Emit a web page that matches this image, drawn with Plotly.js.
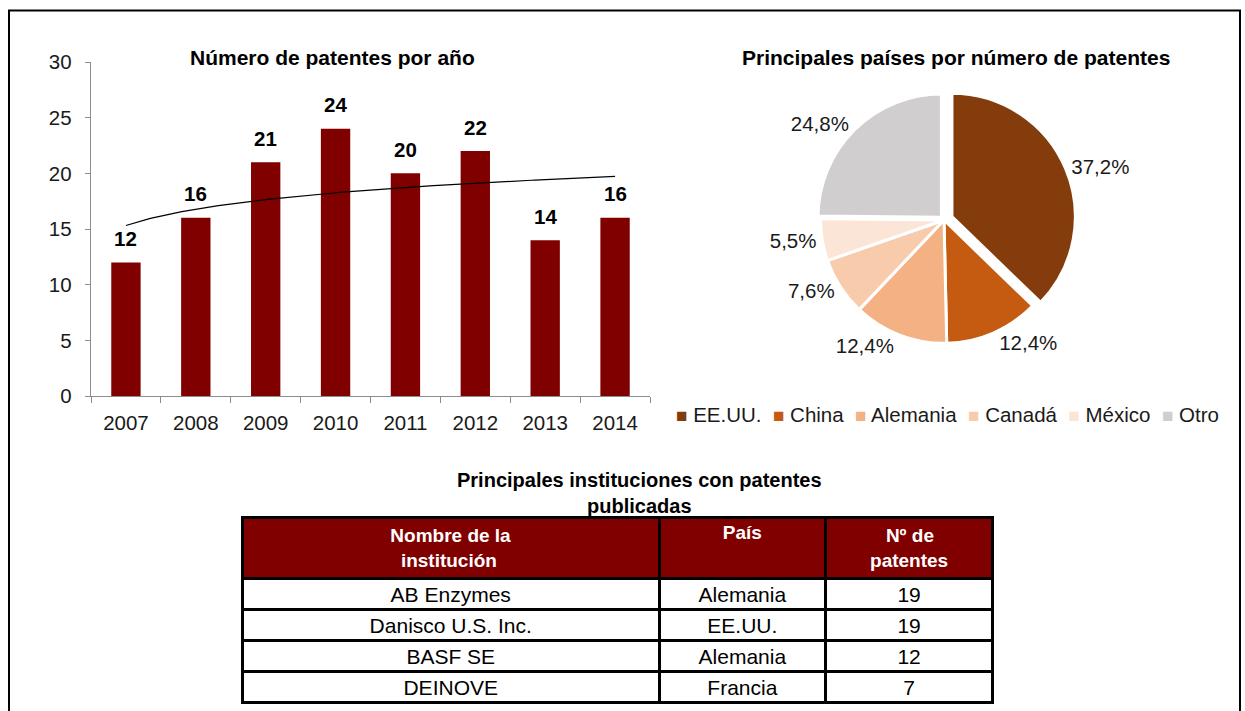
<!DOCTYPE html>
<html>
<head>
<meta charset="utf-8">
<script src="https://cdn.plot.ly/plotly-3.0.1.min.js"></script>
<style>html,body{margin:0;padding:0;background:#fff;overflow:hidden;}#chart{width:1245px;height:711px;}</style>
</head>
<body>
<div id="chart"></div>
<script>
// ---- Data ----
var years = [2007, 2008, 2009, 2010, 2011, 2012, 2013, 2014];
var patents = [12, 16, 21, 24, 20, 22, 14, 16];

var countries = ["EE.UU.", "China", "Alemania", "Canadá", "México", "Otro"];
var countryShare = [37.2, 12.4, 12.4, 7.6, 5.5, 24.8];
var countryColors = ["#843C0C", "#C55A11", "#F4B183", "#F8CBAD", "#FBE5D6", "#D0CECE"];

var instNames = ["AB Enzymes", "Danisco U.S. Inc.", "BASF SE", "DEINOVE"];
var instCountries = ["Alemania", "EE.UU.", "Alemania", "Francia"];
var instPatents = [19, 19, 12, 7];
var tableHeader = ["Nombre de la<br>&nbsp;&nbsp;institución", "País", "&nbsp;&nbsp;&nbsp;Nº de<br>patentes"];

// ---- Logarithmic trend line fitted to the bar values ----
var n = patents.length, sx = 0, sy = 0, sxx = 0, sxy = 0;
for (var i = 0; i < n; i++) {
  var lx = Math.log(i + 1);
  sx += lx; sy += patents[i]; sxx += lx * lx; sxy += lx * patents[i];
}
var b = (n * sxy - sx * sy) / (n * sxx - sx * sx);
var a = (sy - b * sx) / n;
var trendX = [], trendY = [];
for (var k = 0; k <= 140; k++) {
  var t = 1 + 7 * k / 140;
  trendX.push(years[0] - 1 + t);
  trendY.push(a + b * Math.log(t));
}

var FONT = "Liberation Sans, Arial, sans-serif";
var FS = 20.5;

var traces = [
  {
    type: "bar", x: years, y: patents, xaxis: "x", yaxis: "y",
    marker: {color: "#800000"}, width: 0.42, hoverinfo: "x+y", showlegend: false
  },
  {
    type: "scatter", mode: "lines", x: trendX, y: trendY, xaxis: "x", yaxis: "y",
    line: {color: "#000000", width: 1.2}, hoverinfo: "skip", showlegend: false
  },
  {
    type: "pie", labels: countries, values: countryShare, sort: false,
    direction: "clockwise", rotation: 0,
    marker: {colors: countryColors, line: {color: "#ffffff", width: 3}},
    pull: [0.07, 0, 0, 0, 0, 0.03],
    texttemplate: "%{value:.1f}%", textposition: "outside",
    textfont: {family: FONT, size: FS, color: "#1a1a1a"},
    domain: {x: [812 / 1245, 1076 / 1245], y: [1 - 352 / 711, 1 - 88 / 711]},
    showlegend: false, hoverinfo: "label+value"
  },
  {
    type: "table",
    domain: {x: [242 / 1245, 994 / 1245], y: [1 - 706 / 711, 1 - 517 / 711]},
    columnwidth: [418, 166, 168],
    header: {
      values: tableHeader,
      fill: {color: "#800000"},
      line: {color: "#000000", width: 3},
      align: "center", height: 54,
      font: {family: FONT, size: 19, color: "#ffffff", weight: "bold"}
    },
    cells: {
      values: [instNames, instCountries, instPatents],
      fill: {color: "#ffffff"},
      line: {color: "#000000", width: 3},
      align: "center", height: 31,
      font: {family: FONT, size: 21, color: "#000000"}
    }
  }
];

var annotations = [];
for (var j = 0; j < years.length; j++) {
  annotations.push({
    x: years[j], y: patents[j], xref: "x", yref: "y", text: "<b>" + patents[j] + "</b>",
    showarrow: false, xanchor: "center", yanchor: "middle", yshift: 24,
    font: {family: FONT, size: FS, color: "#000000"}
  });
}
annotations.push({
  x: 332 / 1245, y: 1 - 57 / 711, xref: "paper", yref: "paper", xanchor: "center", yanchor: "middle",
  text: "<b>Número de patentes por año</b>", showarrow: false,
  font: {family: FONT, size: 21, color: "#000000"}
});
annotations.push({
  x: 956 / 1245, y: 1 - 58 / 711, xref: "paper", yref: "paper", xanchor: "center", yanchor: "middle",
  text: "<b>Principales países por número de patentes</b>", showarrow: false,
  font: {family: FONT, size: 21, color: "#000000"}
});
annotations.push({
  x: 640 / 1245, y: 1 - 493 / 711, xref: "paper", yref: "paper", xanchor: "center", yanchor: "middle",
  text: "<b>Principales instituciones con patentes<br>publicadas</b>", showarrow: false,
  font: {family: FONT, size: 20, color: "#000000"}
});
// legend for the pie, built from the country arrays
var legendParts = [];
for (var c = 0; c < countries.length; c++) {
  legendParts.push("<span style='color:" + countryColors[c] + ";font-size:19px'>■</span> " + countries[c]);
}
annotations.push({
  x: 674 / 1245, y: 1 - 414 / 711, xref: "paper", yref: "paper",
  xanchor: "left", yanchor: "middle",
  text: legendParts.join("&nbsp;&nbsp;"), showarrow: false,
  font: {family: FONT, size: FS, color: "#1a1a1a"}
});

var layout = {
  width: 1245, height: 711,
  margin: {l: 0, r: 0, t: 0, b: 0, autoexpand: false},
  paper_bgcolor: "#ffffff", plot_bgcolor: "rgba(0,0,0,0)",
  separators: ",.",
  font: {family: FONT, size: FS, color: "#1a1a1a"},
  showlegend: false,
  xaxis: {
    domain: [91 / 1245, 650 / 1245], anchor: "y",
    range: [years[0] - 0.5, years[years.length - 1] + 0.5],
    tickmode: "array", tickvals: years, ticks: "",
    showline: true, linecolor: "#8c8c8c", linewidth: 1.3,
    showgrid: false, zeroline: false, fixedrange: true,
    minor: {tick0: years[0] - 0.5, dtick: 1, ticks: "outside", ticklen: 6, tickcolor: "#8c8c8c", showgrid: false},
    ticklabelstandoff: 8,
    tickfont: {family: FONT, size: FS, color: "#1a1a1a"}
  },
  yaxis: {
    domain: [1 - 396 / 711, 1 - 62 / 711], anchor: "x",
    range: [0, 30], dtick: 5, tick0: 0,
    ticks: "outside", ticklen: 5, tickcolor: "#8c8c8c",
    showline: true, linecolor: "#8c8c8c", linewidth: 1.3,
    showgrid: false, zeroline: false, fixedrange: true,
    ticklabelstandoff: 9,
    tickfont: {family: FONT, size: FS, color: "#1a1a1a"}
  },
  annotations: annotations,
  shapes: [{
    type: "rect", xref: "paper", yref: "paper",
    x0: 9 / 1245, x1: 1240 / 1245, y0: -0.05, y1: 1 - 10.5 / 711,
    line: {color: "#000000", width: 2}, fillcolor: "rgba(0,0,0,0)", layer: "below"
  }]
};

Plotly.newPlot("chart", traces, layout, {displayModeBar: false, staticPlot: true});
</script>
</body>
</html>
